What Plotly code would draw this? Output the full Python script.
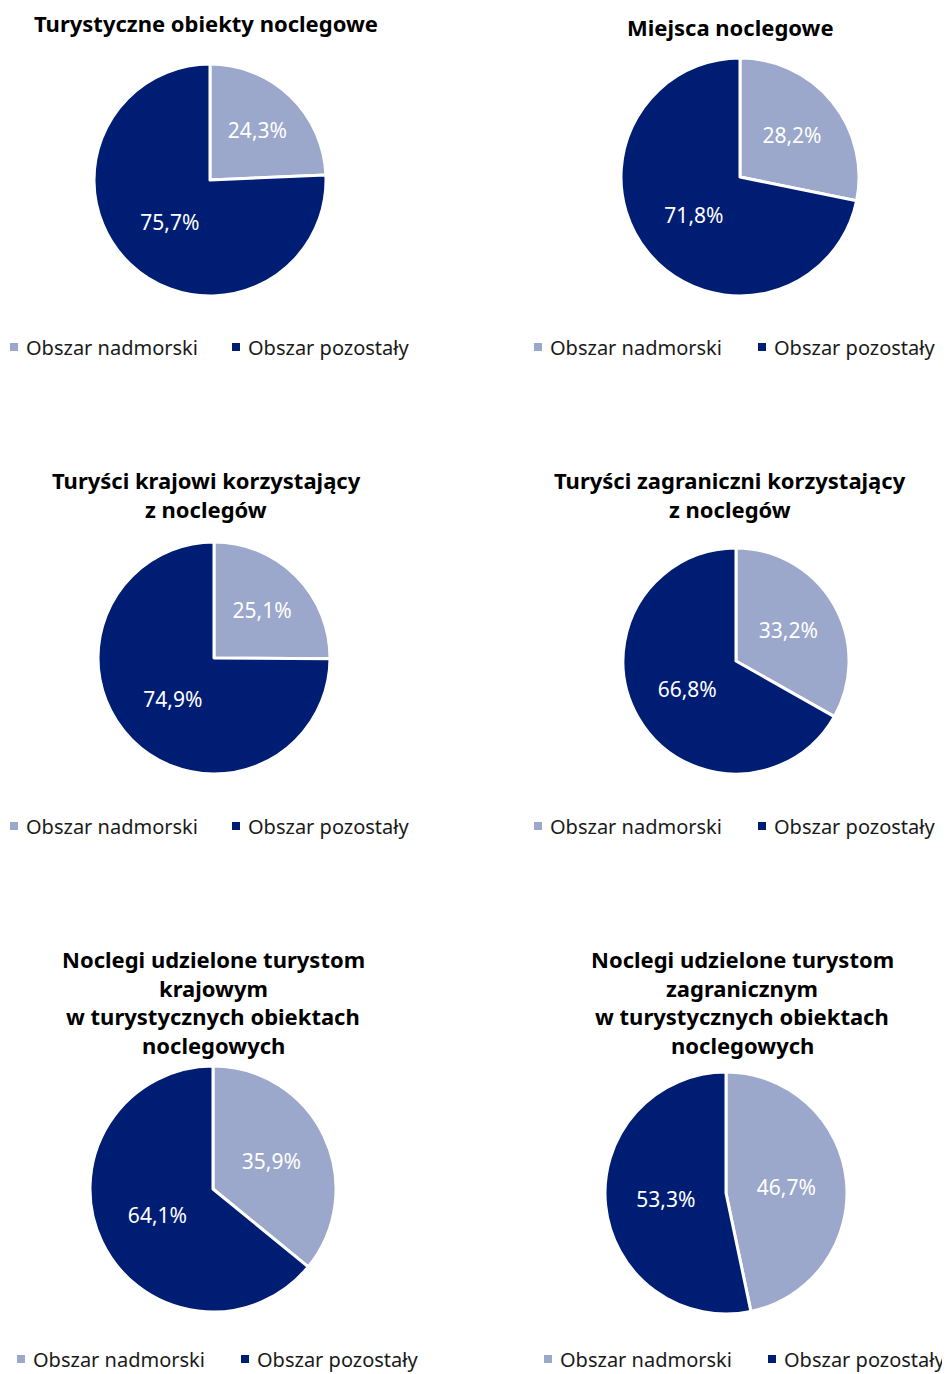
import plotly.graph_objects as go

labels = ["Obszar nadmorski", "Obszar pozostały"]
titles = [
    ["Turystyczne obiekty noclegowe"],
    ["Miejsca noclegowe"],
    ["Turyści krajowi korzystający", "z noclegów"],
    ["Turyści zagraniczni korzystający", "z noclegów"],
    ["Noclegi udzielone turystom", "krajowym", "w turystycznych obiektach", "noclegowych"],
    ["Noclegi udzielone turystom", "zagranicznym", "w turystycznych obiektach", "noclegowych"],
]
nadmorski = [24.3, 28.2, 25.1, 33.2, 35.9, 46.7]
pozostaly = [75.7, 71.8, 74.9, 66.8, 64.1, 53.3]

colors = ["#9BA7CB", "#001D74"]
OFF = 8  # page body margin
W, H = 950 - OFF, 1374 - OFF
FONT = "Noto Sans"


def px(x):
    return (x - OFF) / W


def py(y):
    return 1 - (y - OFF) / H


# pie geometry in page pixels: (center x, center y, radius)
geom = [(210, 180, 116), (740, 177, 119), (214, 658, 116),
        (736, 661, 113), (213, 1189, 123), (726, 1193, 121)]
title_pos = [(206, 23), (730, 27), (206, 480), (730, 480), (213, 959), (742, 959)]
# legend: left x of first square, second square, centre y
legend_pos = [(10, 232, 347), (534, 758, 347), (10, 232, 826), (534, 758, 826),
              (17, 241, 1359), (544, 768, 1359)]
LINE = 28.7

fig = go.Figure()
annotations = []
shapes = []
for i in range(6):
    cx, cy, r = geom[i]
    fig.add_trace(go.Pie(
        labels=labels,
        values=[nadmorski[i], pozostaly[i]],
        sort=False,
        direction="clockwise",
        rotation=0,
        marker=dict(colors=colors, line=dict(color="white", width=3)),
        texttemplate="%{value:.1f}%",
        textposition="inside",
        insidetextorientation="horizontal",
        textfont=dict(color="white", size=21, family=FONT),
        hoverinfo="label+percent",
        domain=dict(x=[px(cx - r), px(cx + r)], y=[py(cy + r), py(cy - r)]),
        showlegend=False,
    ))
    x1, x2, ly = legend_pos[i]
    for lx, lab, col in zip((x1, x2), labels, colors):
        shapes.append(dict(type="rect", xref="paper", yref="paper",
                           x0=px(lx), x1=px(lx + 8), y0=py(ly + 4), y1=py(ly - 4),
                           fillcolor=col, line=dict(width=0)))
        annotations.append(dict(
            text=lab, x=px(lx + 14), y=py(ly), xref="paper", yref="paper",
            xanchor="left", yanchor="middle", showarrow=False,
            font=dict(size=20, family=FONT, color="#1a1a1a"),
        ))
    tx, ty = title_pos[i]
    for j, line in enumerate(titles[i]):
        annotations.append(dict(
            text=f"<b>{line}</b>", x=px(tx), y=py(ty + j * LINE),
            xref="paper", yref="paper", xanchor="center", yanchor="middle",
            showarrow=False, font=dict(size=22, family=FONT, color="black"),
        ))

fig.update_layout(
    width=W, height=H,
    margin=dict(l=0, r=0, t=0, b=0),
    paper_bgcolor="white", plot_bgcolor="white",
    separators=", ",
    annotations=annotations,
    shapes=shapes,
)
fig.write_html("out.html")
